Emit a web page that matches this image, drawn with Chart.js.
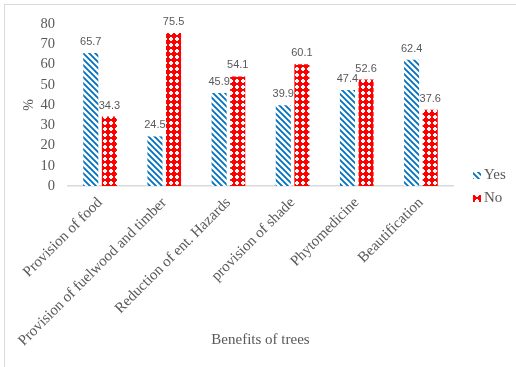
<!DOCTYPE html>
<html>
<head>
<meta charset="utf-8">
<script src="https://cdn.jsdelivr.net/npm/chart.js@4/dist/chart.umd.min.js"></script>
<style>
  html, body { margin: 0; padding: 0; background: #ffffff; }
  #wrap { width: 516px; height: 367px; position: relative; }
</style>
</head>
<body>
<div id="wrap"><canvas id="c" width="516" height="367"></canvas></div>
<script>
// Survey responses on the benefits of trees (percent)
const categories = [
  'Provision of food',
  'Provision of fuelwood and timber',
  'Reduction of ent. Hazards',
  'provision of shade',
  'Phytomedicine',
  'Beautification'
];
const yesValues = [65.7, 24.5, 45.9, 39.9, 47.4, 62.4];
const noValues  = [34.3, 75.5, 54.1, 60.1, 52.6, 37.6];
const yTicks = [0, 10, 20, 30, 40, 50, 60, 70, 80];

const TEXT = '#595959';
const SERIF = '"Liberation Serif", "Times New Roman", serif';

// Blue wide downward-diagonal stripes
function stripePattern() {
  const s = 6;
  const cv = document.createElement('canvas');
  cv.width = s; cv.height = s;
  const g = cv.getContext('2d');
  g.fillStyle = '#ffffff';
  g.fillRect(0, 0, s, s);
  g.strokeStyle = '#0070C0';
  g.lineWidth = 1.8;
  g.beginPath();
  g.moveTo(-1, -1); g.lineTo(s + 1, s + 1);
  g.moveTo(-1, s - 1); g.lineTo(1, s + 1);
  g.moveTo(s - 1, -1); g.lineTo(s + 1, 1);
  g.stroke();
  return g.createPattern(cv, 'repeat');
}

// Red fill with a grid of small white dots
function dotPattern() {
  const s = 6;
  const cv = document.createElement('canvas');
  cv.width = s; cv.height = s;
  const g = cv.getContext('2d');
  g.fillStyle = '#ff0000';
  g.fillRect(0, 0, s, s);
  g.fillStyle = '#ffffff';
  g.fillRect(2, 1, 2, 4);
  g.fillRect(1, 2, 4, 2);
  return g.createPattern(cv, 'repeat');
}

const yesFill = stripePattern();
const noFill = dotPattern();

// Outer frame of the figure
const framePlugin = {
  id: 'frame',
  beforeDraw(chart) {
    const ctx = chart.ctx;
    ctx.save();
    ctx.strokeStyle = '#d9d9d9';
    ctx.lineWidth = 1;
    ctx.strokeRect(4.5, 4.5, 700, 700);
    ctx.restore();
  }
};

// Value labels above each bar
const valueLabels = {
  id: 'valueLabels',
  afterDatasetsDraw(chart) {
    const ctx = chart.ctx;
    ctx.save();
    ctx.fillStyle = TEXT;
    ctx.font = '11px "Liberation Sans", Arial, sans-serif';
    ctx.textAlign = 'center';
    ctx.textBaseline = 'middle';
    chart.data.datasets.forEach((ds, i) => {
      chart.getDatasetMeta(i).data.forEach((bar, j) => {
        ctx.fillText(ds.data[j].toFixed(1), bar.x, bar.y - 11);
      });
    });
    ctx.restore();
  }
};

// Legend to the right of the plot
const sideLegend = {
  id: 'sideLegend',
  afterDraw(chart) {
    const ctx = chart.ctx;
    const x = chart.chartArea.right + 20;
    const mid = chart.height / 2 + 3;
    ctx.save();
    ctx.font = '15px ' + SERIF;
    ctx.textBaseline = 'middle';
    ctx.textAlign = 'left';
    chart.data.datasets.forEach((ds, i) => {
      const y = mid + (i - 0.5) * 23;
      ctx.fillStyle = ds.backgroundColor;
      ctx.fillRect(x, y - 3, 8, 7);
      ctx.fillStyle = TEXT;
      ctx.fillText(ds.label, x + 11, y);
    });
    ctx.restore();
  }
};

new Chart(document.getElementById('c'), {
  type: 'bar',
  data: {
    labels: categories,
    datasets: [
      { label: 'Yes', data: yesValues, backgroundColor: yesFill, borderWidth: 0,
        categoryPercentage: 0.58, barPercentage: 0.81 },
      { label: 'No', data: noValues, backgroundColor: noFill, borderWidth: 0,
        categoryPercentage: 0.58, barPercentage: 0.81 }
    ]
  },
  options: {
    responsive: false,
    animation: false,
    devicePixelRatio: 1,
    layout: { padding: { left: 4, top: 24, right: 63, bottom: 0 } },
    plugins: {
      legend: { display: false },
      tooltip: { enabled: false }
    },
    scales: {
      x: {
        grid: { display: false, drawTicks: false },
        border: { display: true, color: '#d9d9d9', width: 1.5 },
        ticks: {
          color: TEXT,
          font: { family: SERIF, size: 15 },
          minRotation: 45,
          maxRotation: 45,
          autoSkip: false,
          padding: 8
        },
        title: {
          display: true,
          text: 'Benefits of trees',
          color: TEXT,
          font: { family: SERIF, size: 15 },
          padding: { top: 0, bottom: 18 }
        },
        afterFit(scale) { scale.height = 181; }
      },
      y: {
        min: 0,
        max: 80,
        grid: { display: false, drawTicks: false },
        border: { display: false },
        afterBuildTicks(scale) { scale.ticks = yTicks.map(v => ({ value: v })); },
        ticks: {
          color: TEXT,
          font: { family: SERIF, size: 14.5 },
          padding: 13,
          autoSkip: false
        },
        title: {
          display: true,
          text: '%',
          color: TEXT,
          font: { family: SERIF, size: 14 },
          padding: { top: 17, bottom: 0 }
        },
        afterFit(scale) { scale.width = 64; }
      }
    }
  },
  plugins: [framePlugin, valueLabels, sideLegend]
});
</script>
</body>
</html>
